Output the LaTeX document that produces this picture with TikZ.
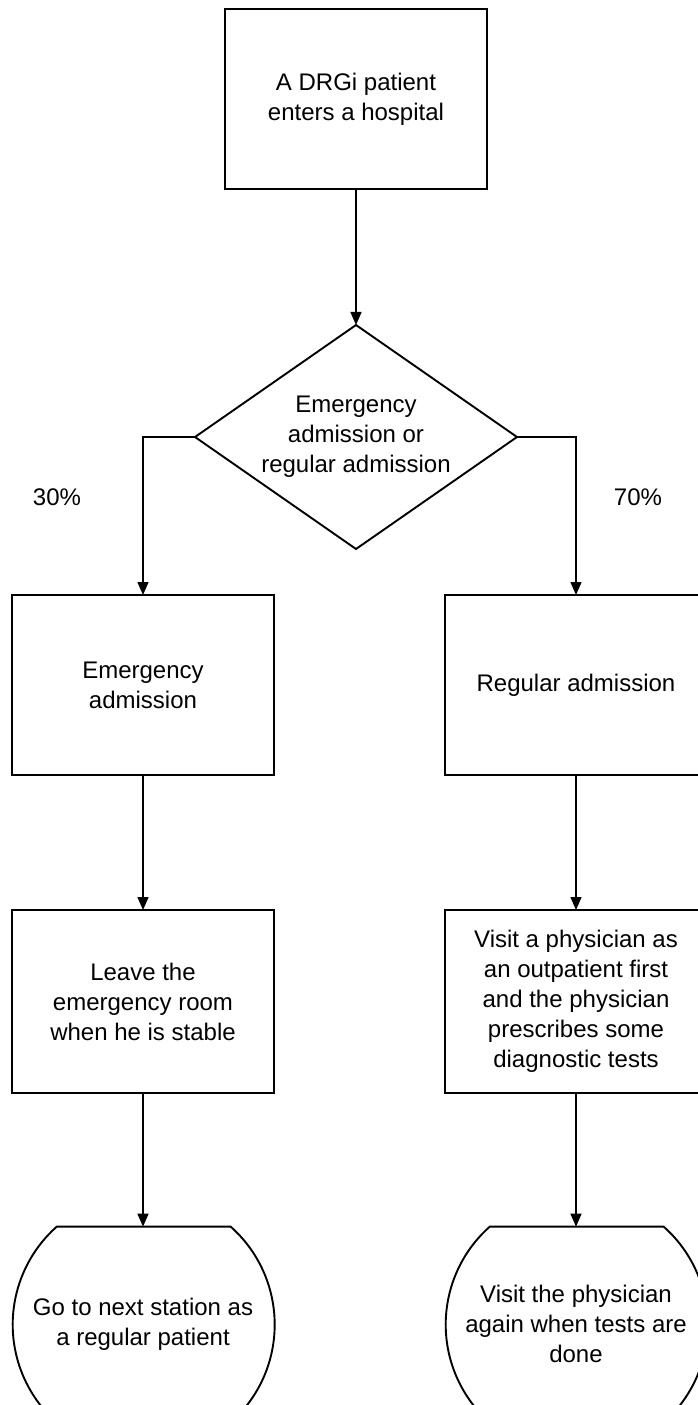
\documentclass[tikz,border=0pt]{standalone}
\usepackage{fontspec}
\setmainfont{Liberation Sans}
\usetikzlibrary{positioning,arrows.meta,shapes.geometric}

\begin{document}
\begin{tikzpicture}[x=1pt,y=1pt,align=center,
    font=\fontsize{24}{30}\selectfont,
    every node/.style={inner sep=0pt,outer sep=0pt},
    line width=1.5pt,
    box/.style={draw,line width=1.9pt,minimum width=262pt,minimum height=180pt},
    choice/.style={draw,line width=1.9pt,diamond,aspect=1.44,minimum width=322pt,minimum height=224pt},
    stop/.style={circle,minimum size=262pt},
    arr/.style={-{Triangle[length=13pt,width=11pt]}}]
          \useasboundingbox (0,0) rectangle (698,-1405);
          \clip (0,0) rectangle (698,-1405);

          \node[box] (enter) at (356,-99) {A DRGi patient\\enters a hospital};
          \node[choice, below=136pt of enter] (adm) {Emergency\\admission or\\regular admission};
          \node (p30) at (57,-497) {30\%};
          \node (p70) at (638,-497) {70\%};

          \node[box] (emerg) at (143,-685) {Emergency\\admission};
          \node[box, right=171pt of emerg] (reg) {Regular admission};
          \node[box, minimum height=183pt, below=135pt of emerg] (leave) {Leave the\\emergency room\\when he is stable};
          \node[box, minimum height=183pt, below=135pt of reg] (visit) {Visit a physician as\\an outpatient first\\and the physician\\prescribes some\\diagnostic tests};

          \node[stop, below=100pt of leave] (next) {Go to next station as\\a regular patient};
          \node[stop, below=100pt of visit] (again) {Visit the physician\\again when tests are\\done};
          \draw[line width=1.9pt] (next.48.4) arc[start angle=48.4,end angle=-228.4,radius=131] -- cycle;
          \draw[line width=1.9pt] (again.48.4) arc[start angle=48.4,end angle=-228.4,radius=131] -- cycle;
          \coordinate (nexttop) at (next.48.4 -| next.center);
          \coordinate (againtop) at (again.48.4 -| again.center);

          \draw[arr] (enter) -- (adm);
          \draw[arr] (adm.west) -| (emerg);
          \draw[arr] (adm.east) -| (reg);
          \draw[arr] (emerg) -- (leave);
          \draw[arr] (reg) -- (visit);
          \draw[arr] (leave) -- (nexttop);
          \draw[arr] (visit) -- (againtop);
        \end{tikzpicture}
\end{document}
